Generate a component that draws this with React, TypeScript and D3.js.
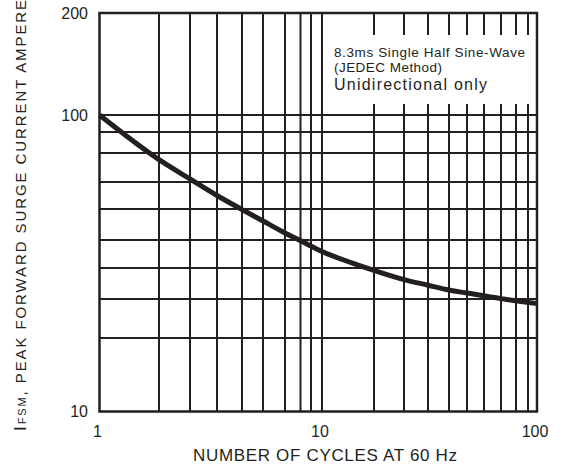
import * as d3 from "d3";

// surge current curve
const cycles = [1, 2, 3, 4, 5, 6, 7, 8, 10, 15, 20, 30, 40, 50, 60, 80, 100];
const amps = [100, 77.6, 71.0, 64.8, 59.8, 55.9, 52.1, 49.7, 45.6, 41.6, 39.1, 35.9, 34.1, 32.6, 31.7, 30.1, 28.6];

const xGrid = [2, 3, 4, 5, 6, 7, 8, 9, 10, 20, 30, 40, 50, 60, 70, 80, 90, 95];
const yGrid = [20, 30, 40, 50, 60, 70, 80, 90, 100];
const xTicks = [1, 10, 100];
const yTicks = [10, 100, 200];

const noteLines = ["8.3ms Single Half Sine-Wave", "(JEDEC Method)", "Unidirectional only"];

// the printed grid is hand drawn, so the log scales are calibrated piecewise
const xBreaks = [1, 2, 3, 4, 5, 6, 7, 8, 9, 10, 20, 30, 40, 50, 60, 70, 80, 90, 95, 100];
const xBreakPx = [99.5, 159, 190, 217, 242, 263, 285, 300.5, 311, 322, 374, 404, 428, 449, 467, 484, 501, 516, 528, 537];
const yBreaks = [10, 20, 30, 40, 50, 60, 70, 80, 90, 100, 200];
const yBreakPx = [411.5, 338, 299, 268, 240, 209, 182, 153, 132, 115, 13];

const W = 562;
const H = 464;
const INK = "#231f20";
const FONT = "'Liberation Sans', Arial, sans-serif";

export default function App() {
  const x = d3.scaleLog().domain(xBreaks).range(xBreakPx);
  const y = d3.scaleLog().domain(yBreaks).range(yBreakPx);

  const [x0, x1] = [x(1), x(100)];
  const [yb, yt] = [y(10), y(200)];

  const line = d3
    .line<number>()
    .x((_, i) => x(cycles[i]))
    .y((d) => y(d))
    .curve(d3.curveMonotoneX);

  return (
    <div style={{ position: "absolute", left: 0, top: 0 }}>
      <svg width={W} height={H} style={{ display: "block", background: "#fff" }}>
        {/* grid */}
        {yGrid.map((v) => (
          <line key={"h" + v} x1={x0} x2={x1} y1={y(v)} y2={y(v)} stroke={INK} strokeWidth={2} />
        ))}
        {xGrid.map((v) => (
          <line key={"v" + v} x1={x(v)} x2={x(v)} y1={yt} y2={yb} stroke={INK} strokeWidth={2} />
        ))}

        {/* note box */}
        <rect x={x(10) + 5} y={35} width={x1 - x(10) - 7} height={69} fill="#fff" />
        <text x={334} y={57} fontFamily={FONT} fontSize={13.5} fill={INK} textLength={191} lengthAdjust="spacing">
          {noteLines[0]}
        </text>
        <text x={334} y={72} fontFamily={FONT} fontSize={13.5} fill={INK} textLength={108} lengthAdjust="spacing">
          {noteLines[1]}
        </text>
        <text x={334} y={89.5} fontFamily={FONT} fontSize={16} fill={INK} textLength={153} lengthAdjust="spacing">
          {noteLines[2]}
        </text>

        {/* frame */}
        <rect x={x0} y={yt} width={x1 - x0} height={yb - yt} fill="none" stroke={INK} strokeWidth={2.5} />

        {/* curve */}
        <path d={line(amps) ?? ""} fill="none" stroke={INK} strokeWidth={5} />

        {/* tick labels */}
        {yTicks.map((v) => (
          <text key={"yt" + v} x={88} y={y(v)} dy="0.36em" textAnchor="end" fontFamily={FONT} fontSize={16} fill={INK}>
            {v}
          </text>
        ))}
        {xTicks.map((v) => (
          <text key={"xt" + v} x={x(v) - 2} y={437} textAnchor="middle" fontFamily={FONT} fontSize={16} fill={INK}>
            {v}
          </text>
        ))}

        {/* axis titles */}
        <text x={193} y={461} fontFamily={FONT} fontSize={17} fill={INK} textLength={264} lengthAdjust="spacing">
          NUMBER OF CYCLES AT 60 Hz
        </text>
        <text
          transform="rotate(-90)"
          x={-431}
          y={25.5}
          fontFamily={FONT}
          fontSize={15}
          fill={INK}
          textLength={443}
          lengthAdjust="spacing"
        >
          <tspan fontSize={17}>I</tspan>
          <tspan fontSize={11}>FSM</tspan>
          <tspan>, PEAK FORWARD SURGE CURRENT AMPERES</tspan>
        </text>
      </svg>
    </div>
  );
}
